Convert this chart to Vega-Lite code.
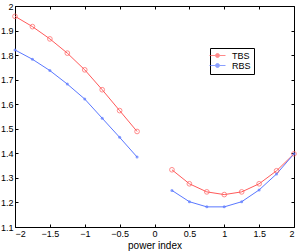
{
  "$schema": "https://vega.github.io/schema/vega-lite/v6.json",
  "width": 279,
  "height": 221,
  "autosize": "none",
  "padding": {"left": 15, "top": 6, "right": 6, "bottom": 25},
  "background": "white",
  "config": {
    "view": {"stroke": "black", "strokeWidth": 1},
    "font": "Liberation Sans",
    "axis": {
      "domain": false,
      "grid": false,
      "tickColor": "black",
      "tickSize": -3,
      "labelColor": "black",
      "labelFontSize": 9,
      "labelFont": "Liberation Sans",
      "labelOverlap": false,
      "titleFont": "Liberation Sans",
      "titleFontWeight": "normal",
      "titleFontSize": 10,
      "titleColor": "black"
    },
    "legend": {
      "orient": "none",
      "legendX": 195,
      "legendY": 42,
      "strokeColor": "black",
      "fillColor": "white",
      "padding": 3,
      "labelFontSize": 9,
      "labelFont": "Liberation Sans",
      "labelColor": "black",
      "symbolType": "M-4,0H-1A1,1 0 1 1 1,0H4M1,0A1,1 0 1 1 -1,0",
      "symbolSize": 16,
      "symbolStrokeWidth": 1,
      "symbolFillColor": "transparent",
      "rowPadding": -3,
      "labelOffset": 10,
      "title": null
    }
  },
  "data": {
    "values": [
      {"x": -2, "y": 1.958, "s": "TBS", "g": "TBS1"},
      {"x": -1.75, "y": 1.916, "s": "TBS", "g": "TBS1"},
      {"x": -1.5, "y": 1.866, "s": "TBS", "g": "TBS1"},
      {"x": -1.25, "y": 1.808, "s": "TBS", "g": "TBS1"},
      {"x": -1, "y": 1.740, "s": "TBS", "g": "TBS1"},
      {"x": -0.75, "y": 1.659, "s": "TBS", "g": "TBS1"},
      {"x": -0.5, "y": 1.574, "s": "TBS", "g": "TBS1"},
      {"x": -0.25, "y": 1.489, "s": "TBS", "g": "TBS1"},
      {"x": 0.25, "y": 1.333, "s": "TBS", "g": "TBS2"},
      {"x": 0.5, "y": 1.276, "s": "TBS", "g": "TBS2"},
      {"x": 0.75, "y": 1.243, "s": "TBS", "g": "TBS2"},
      {"x": 1, "y": 1.232, "s": "TBS", "g": "TBS2"},
      {"x": 1.25, "y": 1.243, "s": "TBS", "g": "TBS2"},
      {"x": 1.5, "y": 1.276, "s": "TBS", "g": "TBS2"},
      {"x": 1.75, "y": 1.329, "s": "TBS", "g": "TBS2"},
      {"x": 2, "y": 1.398, "s": "TBS", "g": "TBS2"},
      {"x": -2, "y": 1.821, "s": "RBS", "g": "RBS1"},
      {"x": -1.75, "y": 1.783, "s": "RBS", "g": "RBS1"},
      {"x": -1.5, "y": 1.737, "s": "RBS", "g": "RBS1"},
      {"x": -1.25, "y": 1.682, "s": "RBS", "g": "RBS1"},
      {"x": -1, "y": 1.621, "s": "RBS", "g": "RBS1"},
      {"x": -0.75, "y": 1.543, "s": "RBS", "g": "RBS1"},
      {"x": -0.5, "y": 1.465, "s": "RBS", "g": "RBS1"},
      {"x": -0.25, "y": 1.385, "s": "RBS", "g": "RBS1"},
      {"x": 0.25, "y": 1.249, "s": "RBS", "g": "RBS2"},
      {"x": 0.5, "y": 1.203, "s": "RBS", "g": "RBS2"},
      {"x": 0.75, "y": 1.182, "s": "RBS", "g": "RBS2"},
      {"x": 1, "y": 1.182, "s": "RBS", "g": "RBS2"},
      {"x": 1.25, "y": 1.203, "s": "RBS", "g": "RBS2"},
      {"x": 1.5, "y": 1.251, "s": "RBS", "g": "RBS2"},
      {"x": 1.75, "y": 1.316, "s": "RBS", "g": "RBS2"},
      {"x": 2, "y": 1.398, "s": "RBS", "g": "RBS2"}
    ]
  },
  "layer": [
    {
      "mark": {"type": "line", "strokeWidth": 1},
      "encoding": {
        "x": {"field": "x", "type": "quantitative", "scale": {"domain": [-2, 2], "nice": false, "zero": false},
              "axis": {"orient": "bottom", "values": [-2, -1.5, -1, -0.5, 0, 0.5, 1, 1.5, 2], "labelExpr": "datum.value == 0 ? '0' : replace(format(datum.value, '~g'), '-', '\u2212')", "title": "power index", "labelPadding": 5, "titleY": 21, "titleBaseline": "alphabetic"}},
        "y": {"field": "y", "type": "quantitative", "scale": {"domain": [1.1, 2], "nice": false, "zero": false},
              "axis": {"orient": "left", "values": [1.1, 1.2, 1.3, 1.4, 1.5, 1.6, 1.7, 1.8, 1.9, 2], "labelExpr": "format(datum.value, '.1~f')", "title": null, "labelPadding": 5}},
        "color": {"field": "s", "type": "nominal", "scale": {"domain": ["TBS", "RBS"], "range": ["#ff5a5a", "#5a78ff"]}},
        "detail": {"field": "g"}
      }
    },
    {
      "mark": {"type": "point", "filled": false, "size": 22, "strokeWidth": 1},
      "transform": [{"filter": "datum.s === 'TBS'"}],
      "encoding": {
        "x": {"field": "x", "type": "quantitative", "axis": {"orient": "top", "values": [-2, -1.5, -1, -0.5, 0, 0.5, 1, 1.5, 2], "labels": false, "title": null}},
        "y": {"field": "y", "type": "quantitative", "axis": {"orient": "right", "values": [1.1, 1.2, 1.3, 1.4, 1.5, 1.6, 1.7, 1.8, 1.9, 2], "labels": false, "title": null}},
        "color": {"field": "s", "type": "nominal"}
      }
    },
    {
      "mark": {"type": "point", "filled": true, "shape": "circle", "size": 9},
      "transform": [{"filter": "datum.s === 'RBS'"}],
      "encoding": {
        "x": {"field": "x", "type": "quantitative", "axis": null},
        "y": {"field": "y", "type": "quantitative", "axis": null},
        "color": {"field": "s", "type": "nominal"}
      }
    }
  ]
}
